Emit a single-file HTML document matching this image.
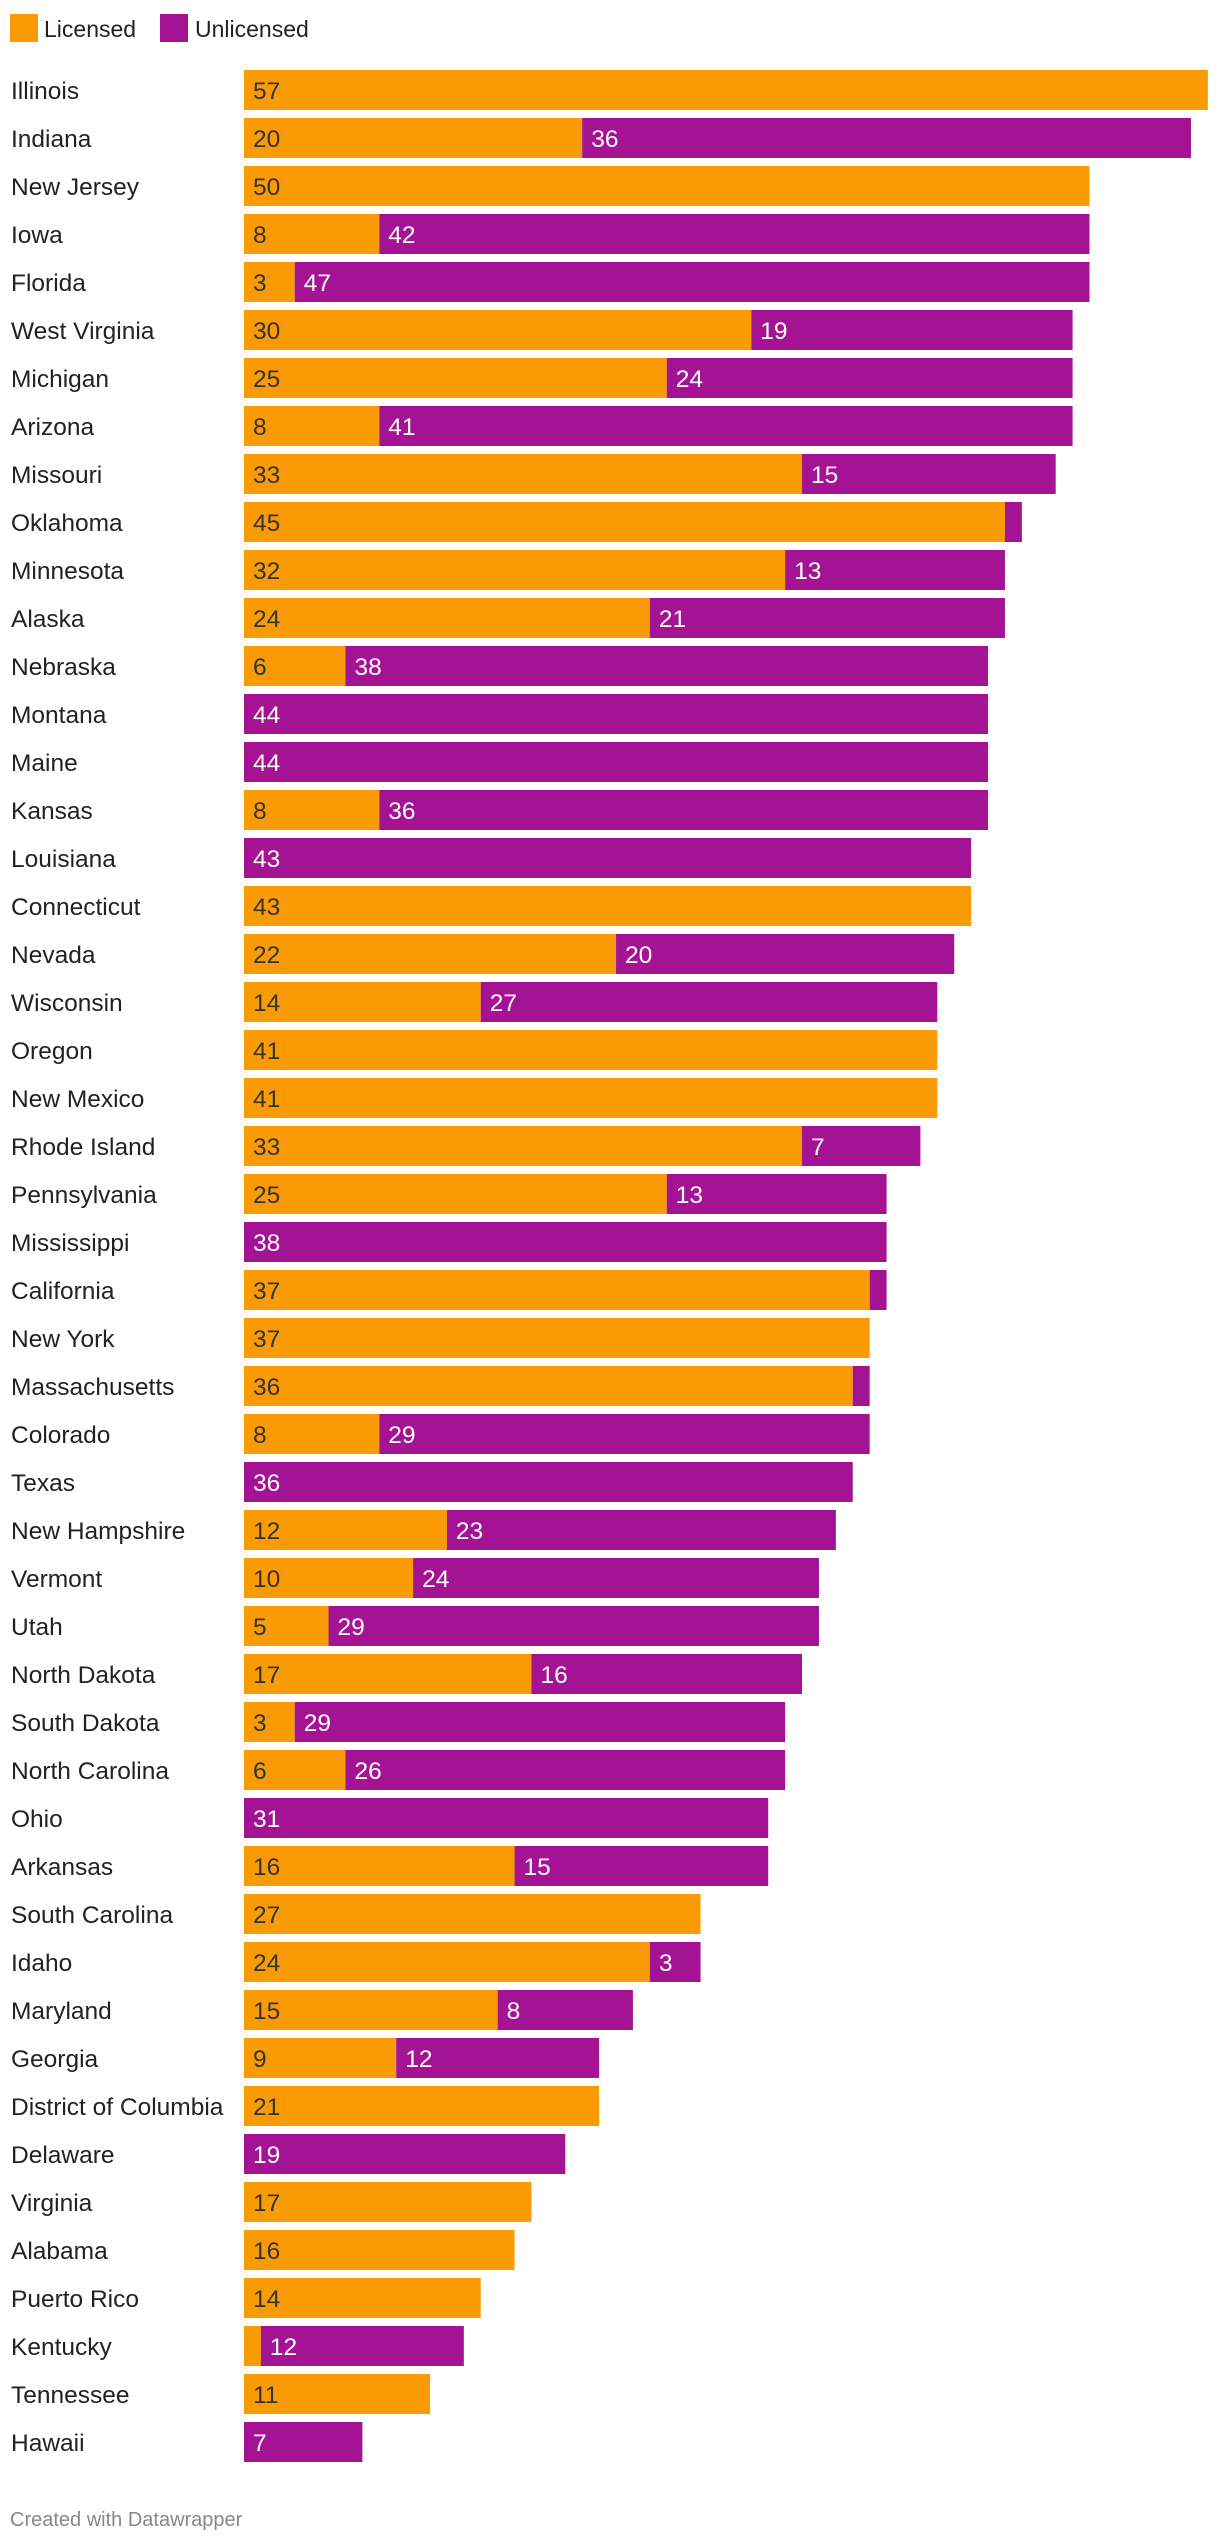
<!DOCTYPE html>
<html><head><meta charset="utf-8">
<style>
html,body{margin:0;padding:0;background:#fff;}
body{width:1220px;height:2538px;overflow:hidden;font-family:"Liberation Sans",sans-serif;}
svg text{font-family:"Liberation Sans",sans-serif;}
</style></head>
<body>
<svg id="chart" width="1220" height="2538" viewBox="0 0 1220 2538" xmlns="http://www.w3.org/2000/svg">
  <g>
    <rect x="10" y="14" width="28" height="28" fill="#fa9b06"/>
    <text x="44" y="37" font-size="23" fill="#222">Licensed</text>
    <rect x="160" y="14" width="28" height="28" fill="#a31394"/>
    <text x="195" y="37" font-size="23" fill="#222">Unlicensed</text>
  </g>
  <g id="bars"></g>
  <text x="10" y="2526" font-size="20" fill="#888">Created with Datawrapper</text>
</svg>
<script>
const categories = ["Illinois","Indiana","New Jersey","Iowa","Florida","West Virginia","Michigan","Arizona","Missouri","Oklahoma","Minnesota","Alaska","Nebraska","Montana","Maine","Kansas","Louisiana","Connecticut","Nevada","Wisconsin","Oregon","New Mexico","Rhode Island","Pennsylvania","Mississippi","California","New York","Massachusetts","Colorado","Texas","New Hampshire","Vermont","Utah","North Dakota","South Dakota","North Carolina","Ohio","Arkansas","South Carolina","Idaho","Maryland","Georgia","District of Columbia","Delaware","Virginia","Alabama","Puerto Rico","Kentucky","Tennessee","Hawaii"];
const licensed = [57,20,50,8,3,30,25,8,33,45,32,24,6,0,0,8,0,43,22,14,41,41,33,25,0,37,37,36,8,0,12,10,5,17,3,6,0,16,27,24,15,9,21,0,17,16,14,1,11,0];
const unlicensed = [0,36,0,42,47,19,24,41,15,1,13,21,38,44,44,36,43,0,20,27,0,0,7,13,38,1,0,1,29,36,23,24,29,16,29,26,31,15,0,3,8,12,0,19,0,0,0,12,0,7];

const X0 = 244, UNIT = 16.91, Y0 = 70, PITCH = 48, BH = 40, FS = 24.5;
const xScale = v => X0 + v * UNIT;
const yScale = i => Y0 + i * PITCH;
const NS = "http://www.w3.org/2000/svg";
const g = document.getElementById("bars");
function mk(tag, attrs){ const e=document.createElementNS(NS,tag); for(const k in attrs) e.setAttribute(k,attrs[k]); return e; }
function slug(s){ return s.toLowerCase().replace(/[^a-z]+/g,'-'); }
categories.forEach((c,i)=>{
  const y = yScale(i);
  const lab = mk("text",{x:11,y:y+29,"font-size":FS,fill:"#222"});
  
  
  lab.textContent = c; g.appendChild(lab);
  const l = licensed[i], u = unlicensed[i];
  if (l > 0) {
    const r = mk("rect",{x:xScale(0),y:y,width:xScale(l)-xScale(0),height:BH,fill:"#fa9b06"});
    
    
    g.appendChild(r);
    if (l >= 2) {
      const t = mk("text",{x:xScale(0)+9,y:y+29,"font-size":FS,fill:"#333"});
      
      
      t.textContent = l; g.appendChild(t);
    }
  }
  if (u > 0) {
    const r = mk("rect",{x:xScale(l),y:y,width:xScale(l+u)-xScale(l),height:BH,fill:"#a31394"});
    
    
    g.appendChild(r);
    if (u >= 2) {
      const t = mk("text",{x:xScale(l)+9,y:y+29,"font-size":FS,fill:"#fff"});
      
      
      t.textContent = u; g.appendChild(t);
    }
  }
});
</script>
</body></html>
